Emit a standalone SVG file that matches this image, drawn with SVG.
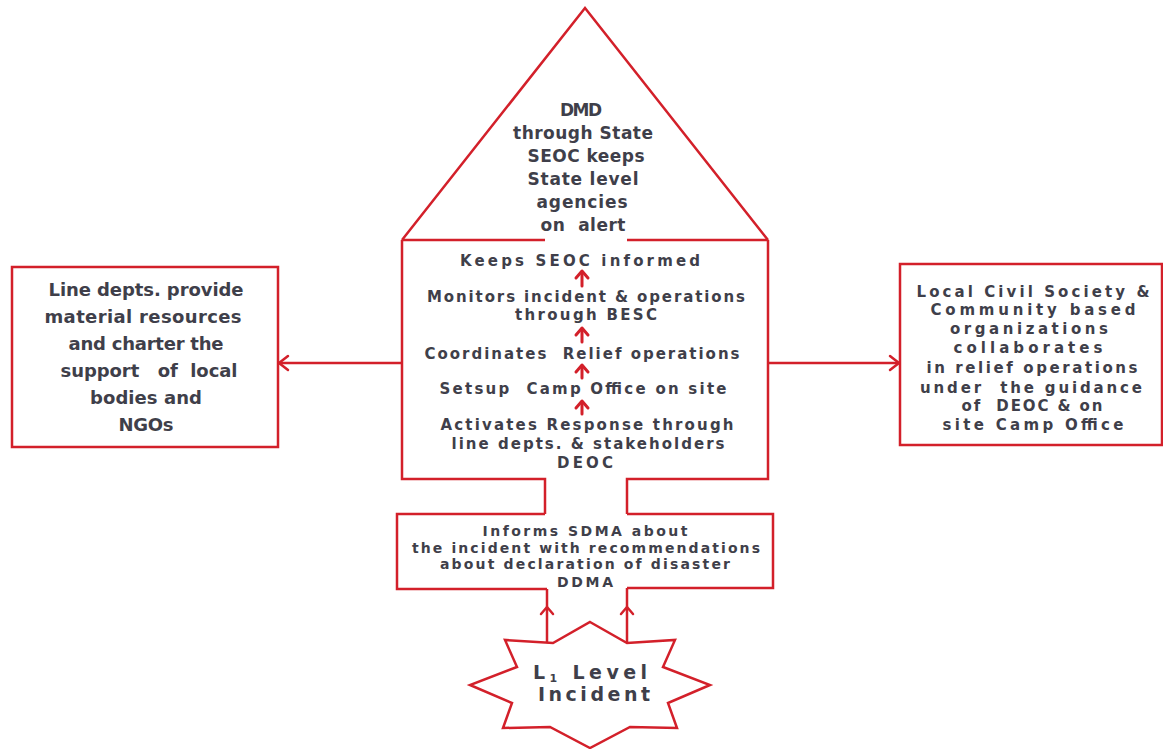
<svg xmlns="http://www.w3.org/2000/svg" width="1163" height="749" viewBox="0 0 1163 749">
<style>
.s{fill:none;stroke:#d3202a;stroke-width:2.5;stroke-linejoin:miter}
.a{fill:none;stroke:#d3202a;stroke-width:2.5}
.ah{fill:none;stroke:#d3202a;stroke-width:2.5;stroke-linecap:round;stroke-linejoin:round}
.ai{fill:none;stroke:#d3202a;stroke-width:3;stroke-linecap:round;stroke-linejoin:round}
.t{font-family:"DejaVu Sans","Liberation Sans",sans-serif;font-weight:bold;fill:#3f3f4a;text-anchor:middle;white-space:pre}
.f14{font-size:14px}
.f15{font-size:15px}
.f17{font-size:17px}
.f18{font-size:18px}
.f19{font-size:19px}
</style>
<rect width="1163" height="749" fill="#ffffff"/>

<g id="state-triangle">
<path class="s" d="M402,240 L585,8 L768,240"/>
<path class="s" d="M402,240 H545 M627,240 H768"/>
<text class="t f17" x="581" y="116" textLength="42">DMD</text>
<text class="t f17" x="583" y="139" textLength="140">through State</text>
<text class="t f17" x="586" y="162" textLength="117">SEOC keeps</text>
<text class="t f17" x="583" y="185" textLength="111">State level</text>
<text class="t f17" x="582" y="208" textLength="91">agencies</text>
<text class="t f17" x="583" y="231" textLength="85">on  alert</text>
</g>

<g id="deoc-body">
<path class="s" d="M402,240 V479 H545 V514 M627,514 V479 H768 V240"/>
<text class="t f15" x="580" y="266" textLength="240">Keeps SEOC informed</text>
<text class="t f15" x="586" y="302" textLength="318">Monitors incident &amp; operations</text>
<text class="t f15" x="586" y="320" textLength="142">through BESC</text>
<text class="t f15" x="582" y="359" textLength="315">Coordinates  Relief operations</text>
<text class="t f15" x="583" y="394" textLength="287">Setsup  Camp Office on site</text>
<text class="t f15" x="587" y="430" textLength="293">Activates Response through</text>
<text class="t f15" x="588" y="449" textLength="273">line depts. &amp; stakeholders</text>
<text class="t f15" x="585" y="468" textLength="56">DEOC</text>
</g>

<g id="ddma-box">
<path class="s" d="M545,514 H397 V589 H547 M627,588 H773 V514 H627"/>
<text class="t f14" x="585" y="536" textLength="205">Informs SDMA about</text>
<text class="t f14" x="586" y="553" textLength="348">the incident with recommendations</text>
<text class="t f14" x="585" y="569" textLength="290">about declaration of disaster</text>
<text class="t f14" x="585" y="587" textLength="56">DDMA</text>
</g>

<g id="incident-star">
<polygon class="s" points="590,622 627,643 675,640 663,667 710,685 668,703 677,728 630,727 590,748 550,727 503,728 512,703 470,685 517,667 505,640 553,643"/>
<text class="t f19" x="590" y="679" textLength="114">L<tspan font-size="11" dy="3">1</tspan><tspan dy="-3"> Level</tspan></text>
<text class="t f19" x="594" y="701" textLength="112">Incident</text>
</g>

<g id="line-depts-box">
<rect class="s" x="12" y="267" width="266" height="180"/>
<text class="t f18" x="146" y="296" textLength="195">Line depts. provide</text>
<text class="t f18" x="143" y="323" textLength="197">material resources</text>
<text class="t f18" x="146" y="350" textLength="155">and charter the</text>
<text class="t f18" x="149" y="377" textLength="177">support   of  local</text>
<text class="t f18" x="146" y="404" textLength="112">bodies and</text>
<text class="t f18" x="146" y="431" textLength="55">NGOs</text>
</g>

<g id="civil-society-box">
<rect class="s" x="900" y="264" width="262" height="181"/>
<text class="t f15" x="1033" y="297" textLength="233">Local Civil Society &amp;</text>
<text class="t f15" x="1033" y="315" textLength="205">Community based</text>
<text class="t f15" x="1029" y="334" textLength="158">organizations</text>
<text class="t f15" x="1028" y="353" textLength="149">collaborates</text>
<text class="t f15" x="1032" y="373" textLength="211">in relief operations</text>
<text class="t f15" x="1031" y="393" textLength="222">under  the guidance</text>
<text class="t f15" x="1032" y="411" textLength="141">of  DEOC &amp; on</text>
<text class="t f15" x="1033" y="430" textLength="181">site Camp Office</text>
</g>

<g id="connectors">
<path class="a" d="M402,363 H279"/>
<path class="ah" d="M288,356 L279,363 L288,370"/>
<path class="a" d="M768,363 H899"/>
<path class="ah" d="M890,356 L899,363 L890,370"/>
<path class="a" d="M547,589 V643"/>
<path class="ah" d="M541,614 L547,607 L553,614"/>
<path class="a" d="M627,588 V643"/>
<path class="ah" d="M621,614 L627,607 L633,614"/>
<path class="ai" d="M582,286 V272"/>
<path class="ai" d="M576,278 L582,271 L588,278"/>
<path class="ai" d="M582,342 V329"/>
<path class="ai" d="M576,335 L582,328 L588,335"/>
<path class="ai" d="M582,378 V367"/>
<path class="ai" d="M576,372 L582,365 L588,372"/>
<path class="ai" d="M582,414 V402"/>
<path class="ai" d="M576,408 L582,401 L588,408"/>
</g>
</svg>
